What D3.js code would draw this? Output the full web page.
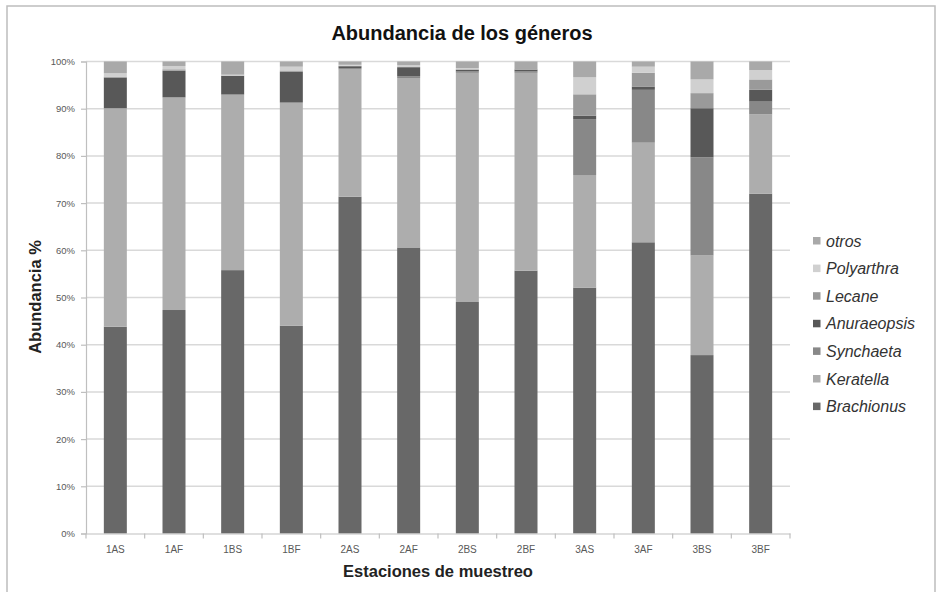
<!DOCTYPE html>
<html>
<head>
<meta charset="utf-8">
<script src="https://cdn.jsdelivr.net/npm/d3@7"></script>
<style>
html,body{margin:0;padding:0;background:#fff;}
svg{display:block;}
</style>
</head>
<body>
<svg id="chart" width="939" height="592"></svg>
<script>
const stations = ["1AS","1AF","1BS","1BF","2AS","2AF","2BS","2BF","3AS","3AF","3BS","3BF"];
const genera = ["Brachionus","Keratella","Synchaeta","Anuraeopsis","Lecane","Polyarthra","otros"];
const brachionus  = [43.8, 47.35, 55.8, 44.0, 71.35, 60.6, 49.05, 55.7, 52.1, 61.7, 37.8, 72.0];
const keratella   = [46.3, 45.05, 37.2, 47.3, 26.95, 35.9, 48.55, 41.9, 23.85, 21.1, 21.1, 16.8];
const synchaeta   = [0, 0, 0, 0, 0.3, 0.4, 0.3, 0.3, 11.85, 11.2, 20.8, 2.7];
const anuraeopsis = [6.5, 5.65, 4.0, 6.5, 0.4, 1.9, 0.4, 0.4, 0.7, 0.7, 10.4, 2.5];
const lecane      = [0.2, 0.3, 0, 0.3, 0.1, 0, 0, 0, 4.55, 2.9, 3.2, 2.2];
const polyarthra  = [0.7, 0.7, 0.2, 0.8, 0.2, 0.4, 0.3, 0, 3.6, 1.3, 2.9, 2.0];
const otros       = [2.5, 0.95, 2.8, 1.1, 0.7, 0.8, 1.4, 1.7, 3.35, 1.1, 3.8, 1.8];
const yTicks = [0,10,20,30,40,50,60,70,80,90,100];
const colors = ["#686868","#adadad","#888888","#585858","#9a9a9a","#d0d0d0","#a9a9a9"];

const seriesVals = [brachionus, keratella, synchaeta, anuraeopsis, lecane, polyarthra, otros];
const table = stations.map((s,i)=>{
  const row = {station:s};
  genera.forEach((g,j)=>{ row[g] = seriesVals[j][i]; });
  return row;
});

const svg = d3.select("#chart");
const font = "'Liberation Sans', Arial, sans-serif";

// outer frame
svg.append("rect").attr("x",7).attr("y",6).attr("width",928).attr("height",600)
  .attr("fill","#fff").attr("stroke","#bdbdbd").attr("stroke-width",1.5);

const x = d3.scaleBand().domain(stations).range([86,790]).paddingInner(0.608).paddingOuter(0.304);
const y = d3.scaleLinear().domain([0,100]).range([533.5,61.5]);
const color = d3.scaleOrdinal().domain(genera).range(colors);

// gridlines
svg.append("g").selectAll("line").data(yTicks.filter(t=>t>0)).join("line")
  .attr("x1",86).attr("x2",790).attr("y1",d=>y(d)).attr("y2",d=>y(d))
  .attr("stroke","#d9d9d9").attr("stroke-width",1.5);

// bars
const stack = d3.stack().keys(genera);
const layers = stack(table);
svg.append("g").selectAll("g").data(layers).join("g")
  .attr("fill",d=>color(d.key))
  .selectAll("rect").data(d=>d).join("rect")
  .attr("x",d=>x(d.data.station))
  .attr("width",x.bandwidth())
  .attr("y",d=>y(d[1]))
  .attr("height",d=>Math.max(0,y(d[0])-y(d[1])));

// y axis
const yAxis = d3.axisLeft(y).tickValues(yTicks).tickFormat(d=>d+"%").tickSize(5).tickPadding(6);
const gy = svg.append("g").attr("transform","translate(86,0)").call(yAxis);
gy.select(".domain").attr("stroke","#bfbfbf").attr("stroke-width",1.2);
gy.selectAll(".tick line").attr("stroke","#bfbfbf").attr("stroke-width",1.2);
gy.selectAll(".tick text").attr("fill","#595959").attr("font-family",font).attr("font-size","9.5px");

// x axis
const xAxis = d3.axisBottom(x).tickSize(0).tickPadding(12);
const gx = svg.append("g").attr("transform","translate(0,533.5)").call(xAxis);
gx.select(".domain").attr("stroke","#bfbfbf").attr("stroke-width",1.2);
gx.selectAll(".tick text").attr("fill","#595959").attr("font-family",font).attr("font-size","10px");
// tick marks between categories
const bounds = stations.map((s,i)=>86 + i*x.step()).concat([790]);
gx.append("g").selectAll("line").data(bounds).join("line")
  .attr("x1",d=>d).attr("x2",d=>d).attr("y1",0).attr("y2",5)
  .attr("stroke","#bfbfbf").attr("stroke-width",1.2);

// title
svg.append("text").attr("x",462).attr("y",40).attr("text-anchor","middle")
  .attr("font-family",font).attr("font-weight","bold").attr("font-size","20px").attr("fill","#111")
  .text("Abundancia de los géneros");

// axis titles
svg.append("text").attr("transform","translate(41,297) rotate(-90)").attr("text-anchor","middle")
  .attr("font-family",font).attr("font-weight","bold").attr("font-size","16.5px").attr("fill","#222")
  .text("Abundancia %");
svg.append("text").attr("x",438).attr("y",577).attr("text-anchor","middle")
  .attr("font-family",font).attr("font-weight","bold").attr("font-size","16.5px").attr("fill","#222")
  .text("Estaciones de muestreo");

// legend
const legendOrder = genera.slice().reverse();
const lg = svg.append("g").selectAll("g").data(legendOrder).join("g")
  .attr("transform",(d,i)=>`translate(813,${241 + i*27.6})`);
lg.append("rect").attr("x",0).attr("y",-4).attr("width",7.5).attr("height",7.5).attr("fill",d=>color(d));
lg.append("text").attr("x",13).attr("y",5.5).attr("font-family",font).attr("font-style","italic")
  .attr("font-size","16px").attr("fill","#333").text(d=>d);
</script>
</body>
</html>
